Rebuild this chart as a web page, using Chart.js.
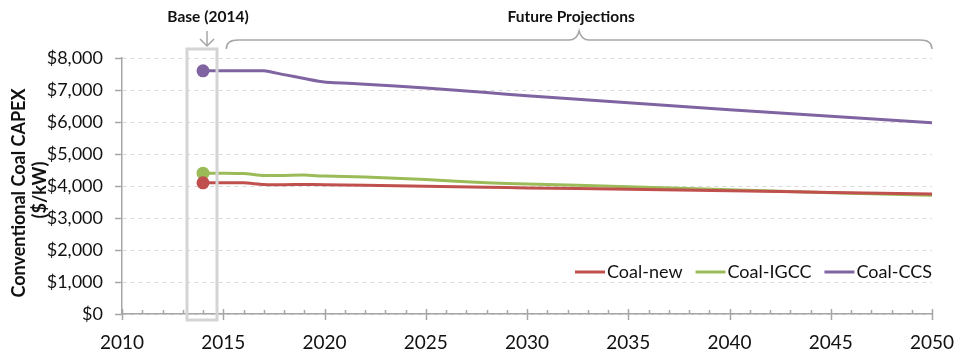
<!DOCTYPE html>
<html lang="en">
<head>
    <meta charset="UTF-8">
    <title>Conventional Coal CAPEX</title>
    <style>
        html, body { margin: 0; padding: 0; background: #fff; }
        canvas { display: block; }
    </style>
</head>
<body>
    <canvas id="capex" width="967" height="354"></canvas>
    <script src="https://cdn.jsdelivr.net/npm/chart.js"></script>
    <script>
        // values ($/kW)
        const years = [2014, 2015, 2016, 2017, 2018, 2019, 2020, 2022, 2025, 2028, 2030, 2035, 2040, 2045, 2050];
        const coalNew = [4100, 4100, 4100, 4050, 4040, 4050, 4040, 4020, 3990, 3960, 3940, 3900, 3850, 3800, 3750];
        const coalIGCC = [4400, 4400, 4390, 4330, 4330, 4340, 4310, 4280, 4200, 4100, 4060, 3980, 3880, 3790, 3710];
        const coalCCS = [7600, 7600, 7600, 7600, 7480, 7360, 7250, 7180, 7060, 6920, 6820, 6600, 6380, 6180, 5980];
        const seriesNames = ['Coal-new', 'Coal-IGCC', 'Coal-CCS'];
        const seriesColors = ['#c0504d', '#9bbb59', '#8064a2'];
        const yTitle = ['Conventional Coal CAPEX', '($/kW)'];
        const baseYear = 2014;
        const baseLabel = 'Base (2014)';
        const futureLabel = 'Future Projections';

        const FONT = 'Lato, "Open Sans", sans-serif';

        function toPoints(vals) {
            return vals.map((v, i) => ({ x: years[i], y: v }));
        }

        const annotations = {
            id: 'annotations',
            afterDatasetsDraw(chart) {
                const ctx = chart.ctx;
                const xs = chart.scales.x;
                const area = chart.chartArea;
                ctx.save();

                // minor / major ticks on x axis
                ctx.strokeStyle = '#a6a6a6';
                ctx.lineWidth = 1.5;
                for (let yr = 2010; yr <= 2050; yr++) {
                    const px = Math.round(xs.getPixelForValue(yr)) + 0.5;
                    ctx.beginPath();
                    if (yr % 5 === 0) {
                        ctx.moveTo(px, area.bottom - 5);
                        ctx.lineTo(px, area.bottom + 6);
                    } else {
                        ctx.moveTo(px, area.bottom - 4);
                        ctx.lineTo(px, area.bottom);
                    }
                    ctx.stroke();
                }

                // base year box
                const bx = xs.getPixelForValue(baseYear);
                ctx.strokeStyle = '#d4d4d4';
                ctx.lineWidth = 3;
                ctx.strokeRect(bx - 16, area.top - 9, 30, area.bottom - area.top + 15);

                // arrow down to the box
                ctx.strokeStyle = '#a6a6a6';
                ctx.lineWidth = 1.5;
                ctx.beginPath();
                ctx.moveTo(bx + 4, 31);
                ctx.lineTo(bx + 4, 46);
                ctx.moveTo(bx - 3, 39);
                ctx.lineTo(bx + 4, 46);
                ctx.lineTo(bx + 11, 39);
                ctx.stroke();

                // curly brace over the projection years
                const x0 = xs.getPixelForValue(2015) + 3;
                const x1 = xs.getPixelForValue(2050);
                const xm = (x0 + x1) / 2;
                const yb = 40;
                ctx.beginPath();
                ctx.moveTo(x0, 49);
                ctx.quadraticCurveTo(x0, yb, x0 + 12, yb);
                ctx.lineTo(xm - 10, yb);
                ctx.quadraticCurveTo(xm - 2, yb, xm, 31);
                ctx.quadraticCurveTo(xm + 2, yb, xm + 10, yb);
                ctx.lineTo(x1 - 12, yb);
                ctx.quadraticCurveTo(x1, yb, x1, 49);
                ctx.stroke();

                // labels above
                ctx.fillStyle = '#111';
                ctx.font = 'bold 15.5px ' + FONT;
                ctx.textAlign = 'center';
                ctx.textBaseline = 'middle';
                ctx.fillText(baseLabel, bx + 5, 17);
                ctx.fillText(futureLabel, xm - 8, 17);

                // y axis title (two rotated lines)
                ctx.save();
                ctx.translate(19, 193);
                ctx.rotate(-Math.PI / 2);
                ctx.font = 'bold 18px ' + FONT;
                ctx.fillText(yTitle[0], 0, 0);
                ctx.fillText(yTitle[1], 3, 21);
                ctx.restore();

                // legend inside plot, lower right
                ctx.font = '18px ' + FONT;
                ctx.textAlign = 'left';
                let lx = 575;
                const ly = 272;
                seriesNames.forEach((name, i) => {
                    ctx.strokeStyle = seriesColors[i];
                    ctx.lineWidth = 3;
                    ctx.beginPath();
                    ctx.moveTo(lx, ly);
                    ctx.lineTo(lx + 30, ly);
                    ctx.stroke();
                    ctx.fillStyle = '#111';
                    ctx.fillText(name, lx + 32, ly);
                    lx += 32 + ctx.measureText(name).width + 13;
                });

                ctx.restore();
            }
        };

        const datasets = [coalNew, coalIGCC, coalCCS].map((vals, i) => ({
            label: seriesNames[i],
            data: toPoints(vals),
            borderColor: seriesColors[i],
            backgroundColor: seriesColors[i],
            borderWidth: 3,
            tension: 0.2,
            pointRadius: c => c.dataIndex === 0 ? 5 : 0,
            pointHoverRadius: 0,
            fill: false
        }));

        new Chart(document.getElementById('capex').getContext('2d'), {
            type: 'line',
            data: { datasets: datasets },
            options: {
                responsive: false,
                animation: false,
                events: [],
                layout: { padding: { top: 58, right: 35, left: 0, bottom: 0 } },
                plugins: { legend: { display: false }, tooltip: { enabled: false } },
                scales: {
                    x: {
                        type: 'linear',
                        min: 2010,
                        max: 2050,
                        grid: { display: false, drawTicks: false },
                        border: { display: true, color: '#a6a6a6', width: 1.5 },
                        ticks: {
                            stepSize: 5,
                            padding: 17,
                            color: '#111',
                            font: { family: FONT, size: 19 },
                            callback: v => String(v)
                        },
                        afterFit: s => { s.height = 40; s.paddingLeft = 0; s.paddingRight = 0; }
                    },
                    y: {
                        min: 0,
                        max: 8000,
                        grid: {
                            color: '#d9d9d9',
                            lineWidth: 1,
                            tickLength: 7,
                            tickColor: '#a6a6a6',
                            tickWidth: 1.5
                        },
                        border: { display: true, color: '#a6a6a6', width: 1.5, dash: [4, 4] },
                        ticks: {
                            stepSize: 1000,
                            padding: 12,
                            color: '#111',
                            font: { family: FONT, size: 18 },
                            callback: v => '$' + v.toLocaleString('en-US')
                        },
                        afterFit: s => { s.width = 122; s.paddingTop = 0; s.paddingBottom = 0; }
                    }
                }
            },
            plugins: [annotations]
        });
    </script>
</body>
</html>
